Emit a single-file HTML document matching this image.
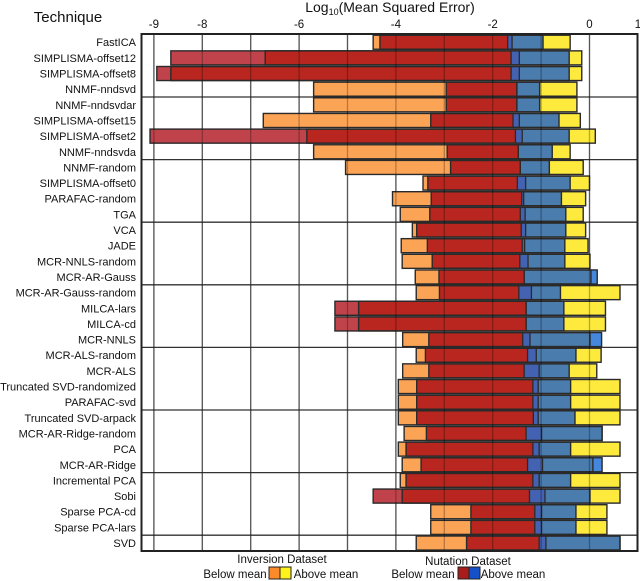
<!DOCTYPE html>
<html><head><meta charset="utf-8"><style>
html,body{margin:0;padding:0;background:#fff;}
svg{display:block;font-family:"Liberation Sans",Arial,sans-serif;}
</style></head><body>
<svg id="chart" width="640" height="581" viewBox="0 0 640 581" xmlns="http://www.w3.org/2000/svg">
<text x="68" y="22" font-size="15" text-anchor="middle" fill="#111">Technique</text>
<text x="390" y="12" font-size="14" text-anchor="middle" fill="#111">Log<tspan font-size="9" dy="3">10</tspan><tspan dy="-3">(Mean Squared Error)</tspan></text>
<g id="grid"></g>
<g id="bars"></g>
<g id="gridTop"></g>
<g id="ticks"></g>
<g id="labels"></g>
<rect x="141.5" y="34" width="496" height="517" fill="none" stroke="#222" stroke-width="2"/>
<g font-size="11.5" fill="#111">
<text x="282" y="563" text-anchor="middle">Inversion Dataset</text>
<text x="235" y="578" text-anchor="middle">Below mean</text>
<rect x="269" y="567" width="11" height="12" fill="#fb8a2a" stroke="#222"/>
<rect x="280" y="567" width="11" height="12" fill="#fff21a" stroke="#222"/>
<text x="326" y="578" text-anchor="middle">Above mean</text>
<text x="468" y="565" text-anchor="middle">Nutation Dataset</text>
<text x="423" y="578" text-anchor="middle">Below mean</text>
<rect x="458" y="567" width="11" height="12" fill="#a81d1b" stroke="#222"/>
<rect x="469" y="567" width="11" height="12" fill="#1450c8" stroke="#222"/>
<text x="513" y="578" text-anchor="middle">Above mean</text>
</g>
</svg>
<script>
const techniques=["FastICA","SIMPLISMA-offset12","SIMPLISMA-offset8","NNMF-nndsvd","NNMF-nndsvdar","SIMPLISMA-offset15","SIMPLISMA-offset2","NNMF-nndsvda","NNMF-random","SIMPLISMA-offset0","PARAFAC-random","TGA","VCA","JADE","MCR-NNLS-random","MCR-AR-Gauss","MCR-AR-Gauss-random","MILCA-lars","MILCA-cd","MCR-NNLS","MCR-ALS-random","MCR-ALS","Truncated SVD-randomized","PARAFAC-svd","Truncated SVD-arpack","MCR-AR-Ridge-random","PCA","MCR-AR-Ridge","Incremental PCA","Sobi","Sparse PCA-cd","Sparse PCA-lars","SVD"];
const invMin=[-4.47,-6.70,-8.65,-5.70,-5.70,-6.74,-5.84,-5.70,-5.04,-3.44,-4.07,-3.91,-3.66,-3.89,-3.87,-3.60,-3.58,-4.77,-4.77,-3.86,-3.58,-3.86,-3.95,-3.95,-3.95,-3.83,-3.95,-3.87,-3.91,-3.87,-3.28,-3.28,-3.58];
const invMean=[-1.60,-1.45,-1.45,-1.50,-1.50,-1.45,-1.39,-1.47,-1.43,-1.32,-1.36,-1.33,-1.32,-1.34,-1.27,-1.35,-1.20,-1.31,-1.31,-1.23,-1.10,-1.04,-1.06,-1.06,-1.06,-0.99,-1.04,-0.97,-1.04,-0.92,-0.99,-0.99,-0.90];
const invMax=[-0.40,-0.16,-0.16,-0.26,-0.26,-0.19,0.12,-0.40,-0.13,0.00,-0.08,-0.13,-0.08,-0.03,0.01,0.03,0.63,0.33,0.33,0.01,0.24,0.15,0.63,0.63,0.63,0.26,0.63,0.07,0.63,0.63,0.36,0.36,0.63];
const nutMin=[-4.33,-8.65,-8.94,-2.96,-2.96,-3.28,-9.08,-2.94,-2.87,-3.34,-3.27,-3.30,-3.57,-3.35,-3.25,-3.11,-3.10,-5.26,-5.26,-3.32,-3.39,-3.32,-3.57,-3.57,-3.57,-3.37,-3.79,-3.48,-3.79,-4.47,-2.45,-2.45,-2.54];
const nutMean=[-1.69,-1.62,-1.62,-1.50,-1.50,-1.58,-1.53,-1.47,-1.43,-1.49,-1.40,-1.43,-1.41,-1.39,-1.44,-1.35,-1.46,-1.31,-1.31,-1.38,-1.28,-1.35,-1.17,-1.17,-1.16,-1.31,-1.17,-1.28,-1.17,-1.24,-1.13,-1.13,-1.04];
const nutMax=[-0.96,-0.42,-0.42,-1.03,-1.03,-0.63,-0.42,-0.77,-0.83,-0.40,-0.58,-0.49,-0.49,-0.51,-0.51,0.16,-0.60,-0.53,-0.53,0.25,-0.28,-0.42,-0.39,-0.39,-0.30,0.26,-0.39,0.26,-0.39,0.01,-0.28,-0.28,0.63];
const tickValues=[-9,-8,-6,-4,-2,0,1];
const gridValues=[-9,-8,-7,-6,-5,-4,-3,-2,-1,0];

const NS="http://www.w3.org/2000/svg";
function xs(v){return 589.5+48.4*v;}
const rowTop=34.4, rowH=15.65;
function ys(i){return rowTop+i*rowH;}
function mk(tag,attrs,parent){const e=document.createElementNS(NS,tag);for(const k in attrs)e.setAttribute(k,attrs[k]);parent.appendChild(e);return e;}
const grid=document.getElementById('grid'),bars=document.getElementById('bars'),gt=document.getElementById('gridTop'),ticks=document.getElementById('ticks'),labels=document.getElementById('labels');
gridValues.forEach(v=>{
  const l=mk('line',{x1:xs(v),x2:xs(v),y1:34,y2:551,stroke:'#777','stroke-width':1.3},grid);
  
  
  const l2=mk('line',{x1:xs(v),x2:xs(v),y1:34,y2:551,stroke:'rgba(0,0,0,0.28)','stroke-width':1.3},gt);
  
  
});
for(let g=4;g<techniques.length;g+=4){
  const l=mk('line',{x1:141.5,x2:637.5,y1:ys(g),y2:ys(g),stroke:'#333','stroke-width':1.3},grid);
  
  
}
tickValues.forEach(v=>{
  const t=mk('text',{x:xs(v),y:28,'font-size':11.5,'text-anchor':'middle',fill:'#111'},ticks);
  t.textContent=String(v);
  
  
});
function colorFor(ib,ia,nb,na){
  if(nb&&(ib||ia))return '#b8261f';
  if(na&&ib)return '#4462b2';
  if(na&&ia)return '#4a7cad';
  if(ib)return '#fca455';
  if(ia)return '#fdea3c';
  if(nb)return '#c0434c';
  if(na)return '#4487dc';
  return null;
}
techniques.forEach((name,i)=>{
  const y=ys(i)+0.8,h=rowH-1.6;
  const pts=[invMin[i],invMean[i],invMax[i],nutMin[i],nutMean[i],nutMax[i]].sort((a,b)=>a-b);
  for(let k=0;k<pts.length-1;k++){
    const a=pts[k],b=pts[k+1];if(b-a<1e-6)continue;const m=(a+b)/2;
    const ib=m>invMin[i]&&m<invMean[i],ia=m>invMean[i]&&m<invMax[i];
    const nb=m>nutMin[i]&&m<nutMean[i],na=m>nutMean[i]&&m<nutMax[i];
    const c=colorFor(ib,ia,nb,na);if(!c)continue;
    const r=mk('rect',{x:xs(a),y:y,width:xs(b)-xs(a),height:h,fill:c},bars);
    
    
  }
  const o1=mk('rect',{x:xs(invMin[i]),y:y,width:xs(invMax[i])-xs(invMin[i]),height:h,fill:'none',stroke:'#2a2a2a','stroke-width':1.4},bars);
  
  
  const o2=mk('rect',{x:xs(nutMin[i]),y:y,width:xs(nutMax[i])-xs(nutMin[i]),height:h,fill:'none',stroke:'#2a2a2a','stroke-width':1.4},bars);
  
  
  [invMean[i],nutMean[i]].forEach(v=>{
    const l=mk('line',{x1:xs(v),x2:xs(v),y1:y,y2:y+h,stroke:'#2a2a2a','stroke-width':1.3},bars);
    
    
  });
  const t=mk('text',{x:136,y:ys(i)+rowH/2+4,'font-size':11,'text-anchor':'end',fill:'#111'},labels);
  t.textContent=name;
  
  
});
</script>
</body></html>
